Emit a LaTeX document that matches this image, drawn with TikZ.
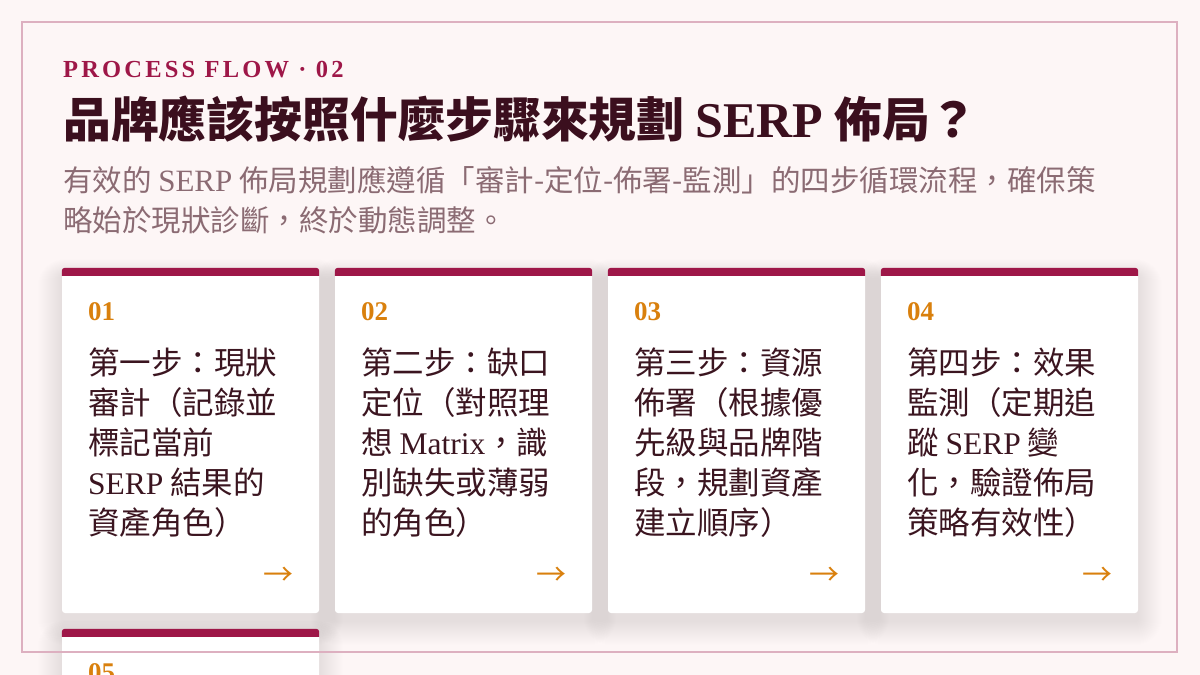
\documentclass[tikz,border=0pt]{standalone}
\usepackage{fontspec}
\setmainfont{Liberation Serif}
\newfontfamily\cjk{Noto Sans CJK TC}
\newfontfamily\eyefont{Liberation Serif}[LetterSpace=13]
\newcommand\lat[1]{{\rmfamily #1}}
\usetikzlibrary{calc}
\definecolor{bgc}{HTML}{FDF6F6}
\definecolor{framec}{HTML}{DDB0C0}
\definecolor{barc}{HTML}{9E1748}
\definecolor{titlec}{HTML}{3B0F1E}
\definecolor{subc}{HTML}{8B6B73}
\definecolor{bodyc}{HTML}{3B1520}
\definecolor{orangec}{HTML}{D9800D}
\definecolor{shadowc}{HTML}{C096A0}
\pgfdeclarelayer{back}
\pgfdeclarelayer{bg}
\pgfsetlayers{back,bg,main}
\begin{document}
\begin{tikzpicture}[x=1pt,y=-1pt,
  card/.style={fill=white, rounded corners=3pt, minimum width=257pt, minimum height=345pt, inner sep=0pt, draw=none},
  num/.style={anchor=base west, inner sep=0pt, text=orangec, font=\fontsize{27}{27}\selectfont\bfseries},
  body/.style={anchor=base west, inner sep=0pt, text=bodyc},
  arr/.style={anchor=east, inner sep=0pt, text=orangec, font=\fontsize{30}{30}\selectfont\cjk},
  bar/.style={fill=barc},
]
\useasboundingbox (0,0) rectangle (1200,675);
\begin{pgfonlayer}{back}
\fill[bgc] (0,0) rectangle (1200,675);
\end{pgfonlayer}
\clip (0,0) rectangle (1200,675);

% header
\node[anchor=base west, inner sep=0pt, text=barc, font=\fontsize{24.5}{24}\selectfont\eyefont\bfseries] (eyebrow) at (63,77) {PROCESS FLOW · 02};
\node[anchor=base west, inner sep=0pt, text=titlec, font=\fontsize{47.8}{48}\selectfont\cjk\bfseries] (title) at (63,137) {品牌應該按照什麼步驟來規劃 {\rmfamily\fontsize{50}{48}\selectfont SERP} 佈局？};
\node[anchor=base west, inner sep=0pt, text=subc] (sub) at (63,191) {\parbox[t]{1120pt}{\fontsize{29.5}{40}\selectfont\cjk 有效的 {\rmfamily\fontsize{31}{40}\selectfont SERP} 佈局規劃應遵循「審計-定位-佈署-監測」的四步循環流程，確保策\\略始於現狀診斷，終於動態調整。}};

% cards
\node[card] (c1) at (190.5,440.5) {};
\node[card] (c2) at (463.5,440.5) {};
\node[card] (c3) at (736.5,440.5) {};
\node[card] (c4) at (1009.5,440.5) {};
\node[card] (c5) at (190.5,801.5) {};

\begin{pgfonlayer}{bg}
\foreach \c in {c1,c2,c3,c4,c5}{
  \foreach \i in {1,...,24}{
    \fill[shadowc, opacity=0.0045, rounded corners={3pt+1pt*\i}]
      ($(\c.north west)+(-1.0*\i, -0.7*\i+8)$) rectangle ($(\c.south east)+(1.0*\i, 1.0*\i+8)$);
  }
}
\end{pgfonlayer}

\foreach \c in {c1,c2,c3,c4,c5}{
  \fill[bar] ($(\c.north west)+(0,8)$) [rounded corners=3pt] -- (\c.north west) -- (\c.north east) [sharp corners] -- ($(\c.north east)+(0,8)$) -- cycle;
}

\node[num] (n1) at ($(c1.north west)+(26,53)$) {01};
\node[num] (n2) at ($(c2.north west)+(26,53)$) {02};
\node[num] (n3) at ($(c3.north west)+(26,53)$) {03};
\node[num] (n4) at ($(c4.north west)+(26,53)$) {04};
\node[num] (n5) at ($(c5.north west)+(26,53)$) {05};

\node[body] (t1) at ($(c1.north west)+(26,107)$) {\parbox[t]{240pt}{\fontsize{31.5}{40}\selectfont\cjk 第一步：現狀\\審計（記錄並\\標記當前\\\lat{SERP} 結果的\\資產角色）}};
\node[body] (t2) at ($(c2.north west)+(26,107)$) {\parbox[t]{240pt}{\fontsize{31.5}{40}\selectfont\cjk 第二步：缺口\\定位（對照理\\想 \lat{Matrix}，識\\別缺失或薄弱\\的角色）}};
\node[body] (t3) at ($(c3.north west)+(26,107)$) {\parbox[t]{240pt}{\fontsize{31.5}{40}\selectfont\cjk 第三步：資源\\佈署（根據優\\先級與品牌階\\段，規劃資產\\建立順序）}};
\node[body] (t4) at ($(c4.north west)+(26,107)$) {\parbox[t]{240pt}{\fontsize{31.5}{40}\selectfont\cjk 第四步：效果\\監測（定期追\\蹤 \lat{SERP} 變\\化，驗證佈局\\策略有效性）}};

\node[arr] (a1) at ($(c1.north east)+(-26,308)$) {→};
\node[arr] (a2) at ($(c2.north east)+(-26,308)$) {→};
\node[arr] (a3) at ($(c3.north east)+(-26,308)$) {→};
\node[arr] (a4) at ($(c4.north east)+(-26,308)$) {→};

% frame
\draw[draw=framec, line width=2pt] (22,22) rectangle (1177,652);
\end{tikzpicture}
\end{document}
